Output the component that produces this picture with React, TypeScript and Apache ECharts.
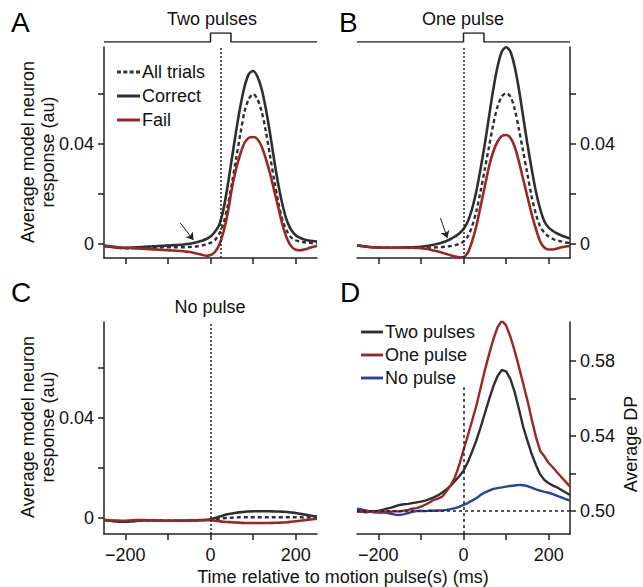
import React, { useEffect, useRef } from "react";
import * as echarts from "echarts";

const timeMs = [-250,-240,-230,-220,-210,-200,-190,-180,-170,-160,-150,-140,-130,-120,-110,-100,-90,-80,-70,-60,-50,-40,-30,-20,-10,0,10,20,30,40,50,60,70,80,90,100,110,120,130,140,150,160,170,180,190,200,210,220,230,240,250];

const aCorrect = [-0.0008,-0.001,-0.0012,-0.0015,-0.0016,-0.0016,-0.0015,-0.0014,-0.0013,-0.0012,-0.0011,-0.001,-0.0009,-0.0008,-0.0007,-0.0006,-0.0005,-0.0004,-0.0003,-0.0001,0.0001,0.0004,0.0008,0.0013,0.002,0.003,0.0048,0.0075,0.0135,0.023,0.034,0.045,0.055,0.063,0.068,0.0692,0.067,0.062,0.054,0.044,0.033,0.023,0.015,0.009,0.0055,0.0035,0.0025,0.0018,0.0014,0.0012,0.001];
const aAll = [-0.0008,-0.001,-0.0012,-0.0014,-0.0016,-0.0017,-0.0017,-0.0016,-0.0016,-0.0015,-0.0015,-0.0014,-0.0014,-0.0014,-0.0013,-0.0013,-0.0013,-0.0013,-0.0013,-0.0013,-0.0012,-0.0011,-0.0009,-0.0006,-0.0002,0.0005,0.0015,0.004,0.008,0.015,0.024,0.034,0.044,0.053,0.058,0.06,0.058,0.053,0.045,0.035,0.025,0.016,0.009,0.005,0.0025,0.0015,0.001,0.0007,0.0005,0.0003,0.0002];
const aFail = [-0.0006,-0.0008,-0.001,-0.0012,-0.0014,-0.0015,-0.0016,-0.0017,-0.0018,-0.0019,-0.002,-0.0021,-0.0022,-0.0023,-0.0024,-0.0025,-0.0026,-0.0027,-0.0028,-0.003,-0.0032,-0.0035,-0.0039,-0.0043,-0.0047,-0.0044,-0.0033,-0.0005,0.0045,0.012,0.022,0.03,0.036,0.0405,0.0425,0.0428,0.042,0.039,0.034,0.028,0.021,0.014,0.007,0.002,-0.001,-0.0023,-0.0025,-0.0022,-0.0017,-0.0012,-0.0008];

const bCorrect = [-0.0006,-0.0008,-0.001,-0.0012,-0.0013,-0.0014,-0.0015,-0.0015,-0.0015,-0.0015,-0.0014,-0.0014,-0.0013,-0.0013,-0.0012,-0.0011,-0.0009,-0.0006,-0.0003,0.0001,0.0006,0.0012,0.002,0.003,0.0042,0.006,0.009,0.014,0.021,0.03,0.04,0.051,0.062,0.071,0.077,0.0787,0.077,0.071,0.062,0.051,0.04,0.03,0.021,0.014,0.009,0.0065,0.0052,0.0042,0.0034,0.0028,0.0022];
const bAll = [-0.0006,-0.0008,-0.001,-0.0012,-0.0013,-0.0014,-0.0015,-0.0015,-0.0015,-0.0015,-0.0015,-0.0015,-0.0015,-0.0015,-0.0015,-0.0015,-0.0015,-0.0015,-0.0014,-0.0013,-0.0012,-0.001,-0.0008,-0.0005,0,0.001,0.003,0.007,0.013,0.021,0.03,0.039,0.048,0.055,0.059,0.0603,0.059,0.054,0.046,0.037,0.028,0.019,0.012,0.007,0.0045,0.003,0.002,0.0014,0.001,0.0006,0.0004];
const bFail = [-0.0006,-0.0008,-0.001,-0.0012,-0.0013,-0.0014,-0.0015,-0.0015,-0.0015,-0.0015,-0.0015,-0.0015,-0.0015,-0.0015,-0.0016,-0.0017,-0.0019,-0.0022,-0.0026,-0.003,-0.0035,-0.004,-0.0045,-0.005,-0.0053,-0.0052,-0.0035,0.001,0.007,0.015,0.023,0.031,0.037,0.041,0.0432,0.0436,0.0425,0.039,0.033,0.026,0.019,0.012,0.006,0.001,-0.0015,-0.0022,-0.0022,-0.0018,-0.0013,-0.001,-0.0008];

const cCorrect = [-0.0008,-0.001,-0.0012,-0.0014,-0.0015,-0.0015,-0.0014,-0.0013,-0.0011,-0.001,-0.0009,-0.0009,-0.001,-0.001,-0.0011,-0.0011,-0.0011,-0.0011,-0.0011,-0.0011,-0.001,-0.001,-0.0009,-0.0008,-0.0007,-0.0005,0,0.0005,0.001,0.0015,0.0018,0.0021,0.0023,0.0025,0.0026,0.0027,0.0027,0.0027,0.0027,0.0027,0.0026,0.0026,0.0025,0.0024,0.0022,0.002,0.0017,0.0014,0.0011,0.0008,0.0006];
const cAll = [-0.0008,-0.001,-0.0012,-0.0013,-0.0014,-0.0014,-0.0013,-0.0012,-0.0011,-0.001,-0.001,-0.001,-0.001,-0.001,-0.0011,-0.0011,-0.0011,-0.0011,-0.0011,-0.0011,-0.001,-0.001,-0.0009,-0.0009,-0.0008,-0.0007,-0.0005,-0.0003,-0.0001,0,0.0001,0.0002,0.0003,0.0003,0.0003,0.0003,0.0003,0.0003,0.0003,0.0003,0.0003,0.0003,0.0003,0.0003,0.0003,0.0003,0.0003,0.0002,0.0002,0.0001,0.0001];
const cFail = [-0.0008,-0.0009,-0.001,-0.001,-0.0011,-0.0011,-0.001,-0.0009,-0.0008,-0.0008,-0.0009,-0.001,-0.001,-0.0011,-0.0011,-0.0011,-0.0011,-0.0011,-0.001,-0.001,-0.001,-0.001,-0.0009,-0.0009,-0.0009,-0.0009,-0.0011,-0.0013,-0.0015,-0.0016,-0.0017,-0.0018,-0.0019,-0.002,-0.002,-0.002,-0.002,-0.002,-0.002,-0.002,-0.0019,-0.0019,-0.0018,-0.0017,-0.0015,-0.0013,-0.0011,-0.0009,-0.0007,-0.0005,-0.0003];

const dTwo = [0.4995,0.4998,0.4992,0.4997,0.4999,0.5,0.5006,0.5012,0.5018,0.5025,0.5032,0.5036,0.5038,0.5042,0.5046,0.505,0.5055,0.5063,0.5072,0.5083,0.5098,0.5115,0.5135,0.516,0.5185,0.5215,0.526,0.5315,0.5375,0.5445,0.552,0.5595,0.5665,0.572,0.5752,0.5745,0.5705,0.5635,0.5545,0.545,0.5375,0.5305,0.5245,0.5195,0.5165,0.5148,0.5135,0.5125,0.5112,0.5098,0.5085];
const dOne = [0.5,0.4995,0.5,0.4998,0.4993,0.4996,0.4994,0.4998,0.4996,0.4999,0.4997,0.5002,0.5005,0.5012,0.5015,0.5023,0.5033,0.5045,0.5058,0.5066,0.5076,0.5105,0.5138,0.518,0.5245,0.5325,0.54,0.548,0.556,0.5655,0.575,0.5835,0.5915,0.598,0.6015,0.599,0.593,0.5855,0.577,0.568,0.559,0.549,0.5395,0.532,0.529,0.5256,0.5232,0.5205,0.518,0.5155,0.513];
const dNo = [0.5012,0.5008,0.5003,0.4998,0.4994,0.4992,0.4993,0.499,0.4985,0.498,0.4978,0.4983,0.4989,0.4995,0.4999,0.5001,0.4999,0.5002,0.5001,0.5003,0.5002,0.5006,0.501,0.5015,0.5022,0.5032,0.5042,0.5055,0.5068,0.5085,0.5098,0.5108,0.5118,0.5122,0.5126,0.513,0.5133,0.5136,0.5139,0.5137,0.5133,0.5124,0.5115,0.5108,0.5102,0.5097,0.509,0.508,0.5072,0.5063,0.5055];

const pulseTimes = [-250, 0, 0, 48, 48, 250];
const pulseLevels = [0, 0, 1, 1, 0, 0];

const xTicks = [-200, -100, 0, 100, 200];
const xLabels = [-200, 0, 200];
const respTicks = [0, 0.02, 0.04, 0.06];
const respLabels = [0, 0.04];
const dpTicks = [0.5, 0.52, 0.54, 0.56, 0.58];
const dpLabels = [0.5, 0.54, 0.58];

const FONT = '"Liberation Sans", Arial, Helvetica, sans-serif';
const INK = "#222";
const BLACK = "#2f2f2f";
const RED = "#9b2628";
const BLUE = "#2b40a6";

const SOLID_ICON = "path://M0,0h23v3h-23z";
const DASH_ICON = "path://M0,0h4v3h-4zM6.3,0h4v3h-4zM12.6,0h4v3h-4zM18.9,0h4.1v3h-4.1z";

const pair = (xs: number[], ys: number[]) => xs.map((x, i) => [x, ys[i]]);

function xAxisFor(gridIndex: number, showLabels: boolean) {
  return {
    type: "value",
    gridIndex,
    min: -250,
    max: 250,
    axisLine: { show: true, onZero: false, lineStyle: { color: INK, width: 1.5 } },
    axisTick: { show: true, customValues: xTicks, length: 6, lineStyle: { color: INK, width: 1.5 } },
    axisLabel: {
      show: showLabels,
      customValues: xLabels,
      fontSize: 18,
      color: "#111",
      fontFamily: FONT,
      margin: 12,
      formatter: (v: number) => (v < 0 ? "\u2212" + Math.abs(v) : String(v)),
    },
    splitLine: { show: false },
  };
}

function respAxis(gridIndex: number, position: string, min: number, max: number) {
  return {
    type: "value",
    gridIndex,
    position,
    min,
    max,
    axisLine: { show: true, onZero: false, lineStyle: { color: INK, width: 1.5 } },
    axisTick: { show: true, customValues: respTicks, length: 6, lineStyle: { color: INK, width: 1.5 } },
    axisLabel: {
      show: true,
      customValues: respLabels,
      fontSize: 18,
      color: "#111",
      fontFamily: FONT,
      margin: 10,
      formatter: (v: number) => (Math.abs(v) < 1e-9 ? "0" : v.toFixed(2)),
    },
    splitLine: { show: false },
  };
}

const vLine = (x: number) => ({
  silent: true,
  symbol: ["none", "none"],
  label: { show: false },
  lineStyle: { color: INK, width: 1.5, type: [2, 2] },
  data: [{ xAxis: x }],
});

const respSeries = (
  xi: number,
  all: number[],
  correct: number[],
  fail: number[],
  extraMark: any
) => [
  {
    name: "Correct",
    type: "line",
    xAxisIndex: xi,
    yAxisIndex: xi,
    data: pair(timeMs, correct),
    symbol: "none",
    smooth: 0.3,
    lineStyle: { color: BLACK, width: 2.6 },
    itemStyle: { color: BLACK },
    markLine: extraMark,
    z: 3,
  },
  {
    name: "All trials",
    type: "line",
    xAxisIndex: xi,
    yAxisIndex: xi,
    data: pair(timeMs, all),
    symbol: "none",
    smooth: 0.3,
    lineStyle: { color: BLACK, width: 2.4, type: [4, 3] },
    itemStyle: { color: BLACK },
    z: 3,
  },
  {
    name: "Fail",
    type: "line",
    xAxisIndex: xi,
    yAxisIndex: xi,
    data: pair(timeMs, fail),
    symbol: "none",
    smooth: 0.3,
    lineStyle: { color: RED, width: 2.6 },
    itemStyle: { color: RED },
    z: 3,
  },
];

const arrowMark = (x0: number, y0: number, x1: number, y1: number, x: number) => ({
  silent: true,
  symbol: ["none", "none"],
  label: { show: false },
  lineStyle: { color: INK, width: 1.5, type: [2, 2] },
  data: [
    { xAxis: x },
    [
      { coord: [x0, y0], symbol: "none", lineStyle: { type: "solid", width: 1, color: INK } },
      { coord: [x1, y1], symbol: "arrow", symbolSize: 7, lineStyle: { type: "solid", width: 1, color: INK } },
    ],
  ],
});

const pulseSeries = (xi: number) => ({
  name: "pulse" + xi,
  type: "line",
  xAxisIndex: xi,
  yAxisIndex: xi,
  data: pair(pulseTimes, pulseLevels),
  symbol: "none",
  lineStyle: { color: INK, width: 1.5 },
  itemStyle: { color: INK },
  silent: true,
});

const hiddenAxis = (gridIndex: number, min: number, max: number) => ({
  type: "value",
  gridIndex,
  min,
  max,
  show: false,
});

const legendBase = {
  orient: "vertical",
  itemHeight: 3,
  itemWidth: 23,
  selectedMode: false,
  textStyle: { fontSize: 18, color: "#111", fontFamily: FONT, padding: [0, 0, 0, -3] },
};

const option: any = {
  animation: false,
  backgroundColor: "#fff",
  textStyle: { fontFamily: FONT },
  grid: [
    { left: 104, width: 213, top: 47, height: 211 },
    { left: 357, width: 213, top: 47, height: 211 },
    { left: 104, width: 213, top: 322, height: 212 },
    { left: 357, width: 213, top: 322, height: 212 },
    { left: 104, width: 213, top: 33, height: 9 },
    { left: 357, width: 213, top: 33, height: 9 },
  ],
  xAxis: [
    xAxisFor(0, false),
    xAxisFor(1, false),
    xAxisFor(2, true),
    xAxisFor(3, true),
    hiddenAxis(4, -250, 250),
    hiddenAxis(5, -250, 250),
  ],
  yAxis: [
    respAxis(0, "left", -0.0056, 0.0788),
    respAxis(1, "right", -0.0056, 0.0788),
    respAxis(2, "left", -0.0064, 0.0784),
    {
      type: "value",
      gridIndex: 3,
      position: "right",
      min: 0.4877,
      max: 0.6008,
      axisLine: { show: true, onZero: false, lineStyle: { color: INK, width: 1.5 } },
      axisTick: { show: true, customValues: dpTicks, length: 6, lineStyle: { color: INK, width: 1.5 } },
      axisLabel: {
        show: true,
        customValues: dpLabels,
        fontSize: 18,
        color: "#111",
        fontFamily: FONT,
        margin: 10,
        formatter: (v: number) => v.toFixed(2),
      },
      splitLine: { show: false },
    },
    hiddenAxis(4, 0, 1),
    hiddenAxis(5, 0, 1),
  ],
  legend: [
    {
      ...legendBase,
      data: [
        { name: "All trials", icon: DASH_ICON },
        { name: "Correct", icon: SOLID_ICON },
        { name: "Fail", icon: SOLID_ICON },
      ],
      left: 112,
      top: 58,
      itemGap: 6,
    },
    {
      ...legendBase,
      data: [
        { name: "Two pulses", icon: SOLID_ICON },
        { name: "One pulse", icon: SOLID_ICON },
        { name: "No pulse", icon: SOLID_ICON },
      ],
      left: 356,
      top: 318,
      itemWidth: 22,
      itemGap: 5,
    },
  ],
  series: [
    ...respSeries(0, aAll, aCorrect, aFail, arrowMark(-71, 0.0084, -40, 0.0016, 25)),
    ...respSeries(1, bAll, bCorrect, bFail, arrowMark(-54, 0.0104, -38, 0.0024, 0)),
    ...respSeries(2, cAll, cCorrect, cFail, vLine(0)),
    {
      name: "No pulse",
      type: "line",
      xAxisIndex: 3,
      yAxisIndex: 3,
      data: pair(timeMs, dNo),
      symbol: "none",
      lineStyle: { color: BLUE, width: 2.4 },
      itemStyle: { color: BLUE },
      markLine: {
        silent: true,
        symbol: ["none", "none"],
        label: { show: false },
        lineStyle: { color: INK, width: 1.5, type: [3, 3] },
        data: [
          { yAxis: 0.5 },
          [{ coord: [0, 0.4877] }, { coord: [0, 0.566] }],
        ],
      },
    },
    {
      name: "Two pulses",
      type: "line",
      xAxisIndex: 3,
      yAxisIndex: 3,
      data: pair(timeMs, dTwo),
      symbol: "none",
      lineStyle: { color: BLACK, width: 2.4 },
      itemStyle: { color: BLACK },
    },
    {
      name: "One pulse",
      type: "line",
      xAxisIndex: 3,
      yAxisIndex: 3,
      data: pair(timeMs, dOne),
      symbol: "none",
      lineStyle: { color: RED, width: 2.4 },
      itemStyle: { color: RED },
    },
    pulseSeries(4),
    pulseSeries(5),
  ],
  graphic: [
    { type: "text", x: 11, y: 8, style: { text: "A", font: `28px ${FONT}`, fill: "#000" } },
    { type: "text", x: 339, y: 8, style: { text: "B", font: `28px ${FONT}`, fill: "#000" } },
    { type: "text", x: 11, y: 278, style: { text: "C", font: `28px ${FONT}`, fill: "#000" } },
    { type: "text", x: 340, y: 278, style: { text: "D", font: `28px ${FONT}`, fill: "#000" } },
    { type: "text", x: 212, y: 19, style: { text: "Two pulses", font: `18px ${FONT}`, fill: "#111", textAlign: "center", textVerticalAlign: "middle" } },
    { type: "text", x: 463, y: 19, style: { text: "One pulse", font: `18px ${FONT}`, fill: "#111", textAlign: "center", textVerticalAlign: "middle" } },
    { type: "text", x: 210, y: 307, style: { text: "No pulse", font: `18px ${FONT}`, fill: "#111", textAlign: "center", textVerticalAlign: "middle" } },
    {
      type: "text", x: 38, y: 152, rotation: Math.PI / 2,
      style: { text: "Average model neuron\nresponse (au)", font: `18px ${FONT}`, lineHeight: 20, fill: "#111", textAlign: "center", textVerticalAlign: "middle" },
    },
    {
      type: "text", x: 38, y: 427, rotation: Math.PI / 2,
      style: { text: "Average model neuron\nresponse (au)", font: `18px ${FONT}`, lineHeight: 20, fill: "#111", textAlign: "center", textVerticalAlign: "middle" },
    },
    {
      type: "text", x: 631, y: 444, rotation: Math.PI / 2,
      style: { text: "Average DP", font: `18px ${FONT}`, fill: "#111", textAlign: "center", textVerticalAlign: "middle" },
    },
    { type: "text", x: 343, y: 577, style: { text: "Time relative to motion pulse(s) (ms)", font: `18px ${FONT}`, fill: "#111", textAlign: "center", textVerticalAlign: "middle" } },
  ],
};

export default function App() {
  const ref = useRef<HTMLDivElement>(null);
  useEffect(() => {
    const chart = echarts.init(ref.current as HTMLDivElement, null, { renderer: "svg" });
    chart.setOption(option);
    return () => chart.dispose();
  }, []);
  return (
    <div
      ref={ref}
      style={{ position: "absolute", left: 0, top: 0, width: 643, height: 587 }}
    />
  );
}
